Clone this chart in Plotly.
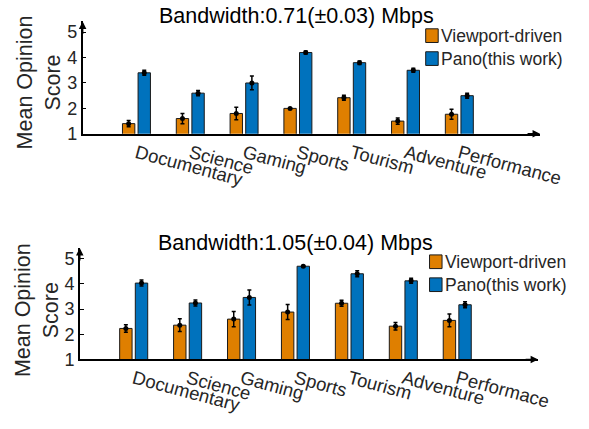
import plotly.graph_objects as go

categories_top = ["Documentary", "Science", "Gaming", "Sports", "Tourism", "Adventure", "Performance"]
categories_bot = ["Documentary", "Science", "Gaming", "Sports", "Tourism", "Adventure", "Performace"]

vp_top = [1.4, 1.6, 1.8, 2.0, 2.42, 1.5, 1.77]
vp_top_err = [0.12, 0.2, 0.25, 0.03, 0.1, 0.12, 0.2]
pano_top = [3.4, 2.6, 3.0, 4.2, 3.8, 3.5, 2.5]
pano_top_err = [0.1, 0.1, 0.27, 0.06, 0.07, 0.08, 0.1]

vp_bot = [2.23, 2.36, 2.6, 2.88, 3.23, 2.32, 2.55]
vp_bot_err = [0.15, 0.25, 0.3, 0.3, 0.12, 0.15, 0.25]
pano_bot = [4.03, 3.24, 3.46, 4.7, 4.4, 4.12, 3.17]
pano_bot_err = [0.12, 0.12, 0.3, 0.03, 0.12, 0.1, 0.12]

series_names = ["Viewport-driven", "Pano(this work)"]
titles = ["Bandwidth:0.71(±0.03) Mbps", "Bandwidth:1.05(±0.04) Mbps"]
ytick_vals = [1, 2, 3, 4, 5]

ORANGE = "#DF7F00"
BLUE = "#0072BD"
FONT = "Liberation Sans"
W, H = 589, 429

def px(x):
    return x / W

def py(y):
    return 1 - y / H

fig = go.Figure()

panels = [
    dict(cats=categories_top, vp=vp_top, vpe=vp_top_err, pa=pano_top, pae=pano_top_err,
         xa="x", ya="y", xdom=(86, 562), ydom=(22, 137), title=titles[0], tpos=(309, 16),
         lab=(41, 84), leg=(443, 36.5)),
    dict(cats=categories_bot, vp=vp_bot, vpe=vp_bot_err, pa=pano_bot, pae=pano_bot_err,
         xa="x2", ya="y2", xdom=(83, 560), ydom=(254, 368), title=titles[1], tpos=(307, 249),
         lab=(38, 318), leg=(447, 268)),
]

BW = 0.23
OFF = 0.03
annotations = []
shapes = []

for k, p in enumerate(panels):
    idx = list(range(len(p["cats"])))
    for vals, errs, color, off, name in [
        (p["vp"], p["vpe"], ORANGE, -OFF - BW, series_names[0]),
        (p["pa"], p["pae"], BLUE, OFF, series_names[1]),
    ]:
        fig.add_trace(go.Bar(
            x=idx, y=vals, width=BW, offset=off, name=name, showlegend=False,
            marker=dict(color=color, line=dict(color="#1a1a1a", width=1)),
            xaxis=p["xa"], yaxis=p["ya"],
        ))
        fig.add_trace(go.Scatter(
            x=[i + off + BW / 2 for i in idx], y=vals, mode="markers", showlegend=False,
            marker=dict(color="black", size=5),
            error_y=dict(type="data", array=errs, color="black", thickness=1.5, width=2),
            xaxis=p["xa"], yaxis=p["ya"], hoverinfo="skip",
        ))
    sfx = "" if k == 0 else "2"
    fig.update_layout(**{
        "xaxis" + sfx: dict(
            domain=[px(p["xdom"][0]), px(p["xdom"][1])], range=[-1, 7.5],
            tickvals=idx, ticktext=p["cats"], tickangle=15, showline=True,
            linecolor="black", linewidth=1.5, ticks="", showgrid=False, zeroline=False,
            anchor="y" + sfx, tickfont=dict(family=FONT, size=18.5, color="#262626"),
        ),
        "yaxis" + sfx: dict(
            domain=[py(p["ydom"][1]), py(p["ydom"][0])], range=[1, 5.42],
            tickvals=ytick_vals, showline=True, linecolor="black", linewidth=1.5,
            ticks="inside", ticklen=4, tickcolor="black", showgrid=False, zeroline=False,
            anchor="x" + sfx, tickfont=dict(family=FONT, size=18, color="#262626"),
        ),
    })
    xt, yb = p["xdom"][1], p["ydom"][1]
    annotations.append(dict(x=px(xt), y=py(yb), xref="paper", yref="paper", text="",
                            showarrow=True, ax=-14, ay=0, arrowhead=2, arrowsize=1,
                            arrowwidth=1.5, arrowcolor="black"))
    annotations.append(dict(x=px(p["xdom"][0]), y=py(p["ydom"][0]), xref="paper", yref="paper",
                            text="", showarrow=True, ax=0, ay=14, arrowhead=2, arrowsize=1,
                            arrowwidth=1.5, arrowcolor="black"))
    annotations.append(dict(x=px(p["tpos"][0]), y=py(p["tpos"][1]), xref="paper", yref="paper",
                            text=p["title"], showarrow=False, xanchor="center", yanchor="middle",
                            font=dict(family=FONT, size=21.5, color="black")))
    annotations.append(dict(x=px(p["lab"][0]), y=py(p["lab"][1]), xref="paper", yref="paper",
                            text="Mean Opinion<br>Score", showarrow=False, textangle=-90,
                            xanchor="center", yanchor="middle",
                            font=dict(family=FONT, size=21.5, color="#262626")))
    lx, ly = p["leg"]
    for j, (name, color) in enumerate(zip(series_names, [ORANGE, BLUE])):
        cy = ly + j * 23.5
        shapes.append(dict(type="rect", xref="paper", yref="paper",
                           x0=px(lx), x1=px(lx + 13), y0=py(cy - 7), y1=py(cy + 7),
                           fillcolor=color, line=dict(color="#1a1a1a", width=1)))
        annotations.append(dict(x=px(lx + 14), y=py(cy), xref="paper", yref="paper",
                                text=name, showarrow=False, xanchor="left", yanchor="middle",
                                font=dict(family=FONT, size=17.5, color="#262626")))

fig.update_layout(
    width=W, height=H, margin=dict(l=0, r=0, t=0, b=0),
    plot_bgcolor="white", paper_bgcolor="white",
    barmode="overlay", annotations=annotations, shapes=shapes,
    font=dict(family=FONT),
)

POST = (
    "document.documentElement.style.margin='0';document.body.style.margin='0';"
    "document.documentElement.style.overflow='hidden';document.body.style.overflow='hidden';"
)

fig.write_html("out.html", config={"displayModeBar": False}, post_script=POST)
